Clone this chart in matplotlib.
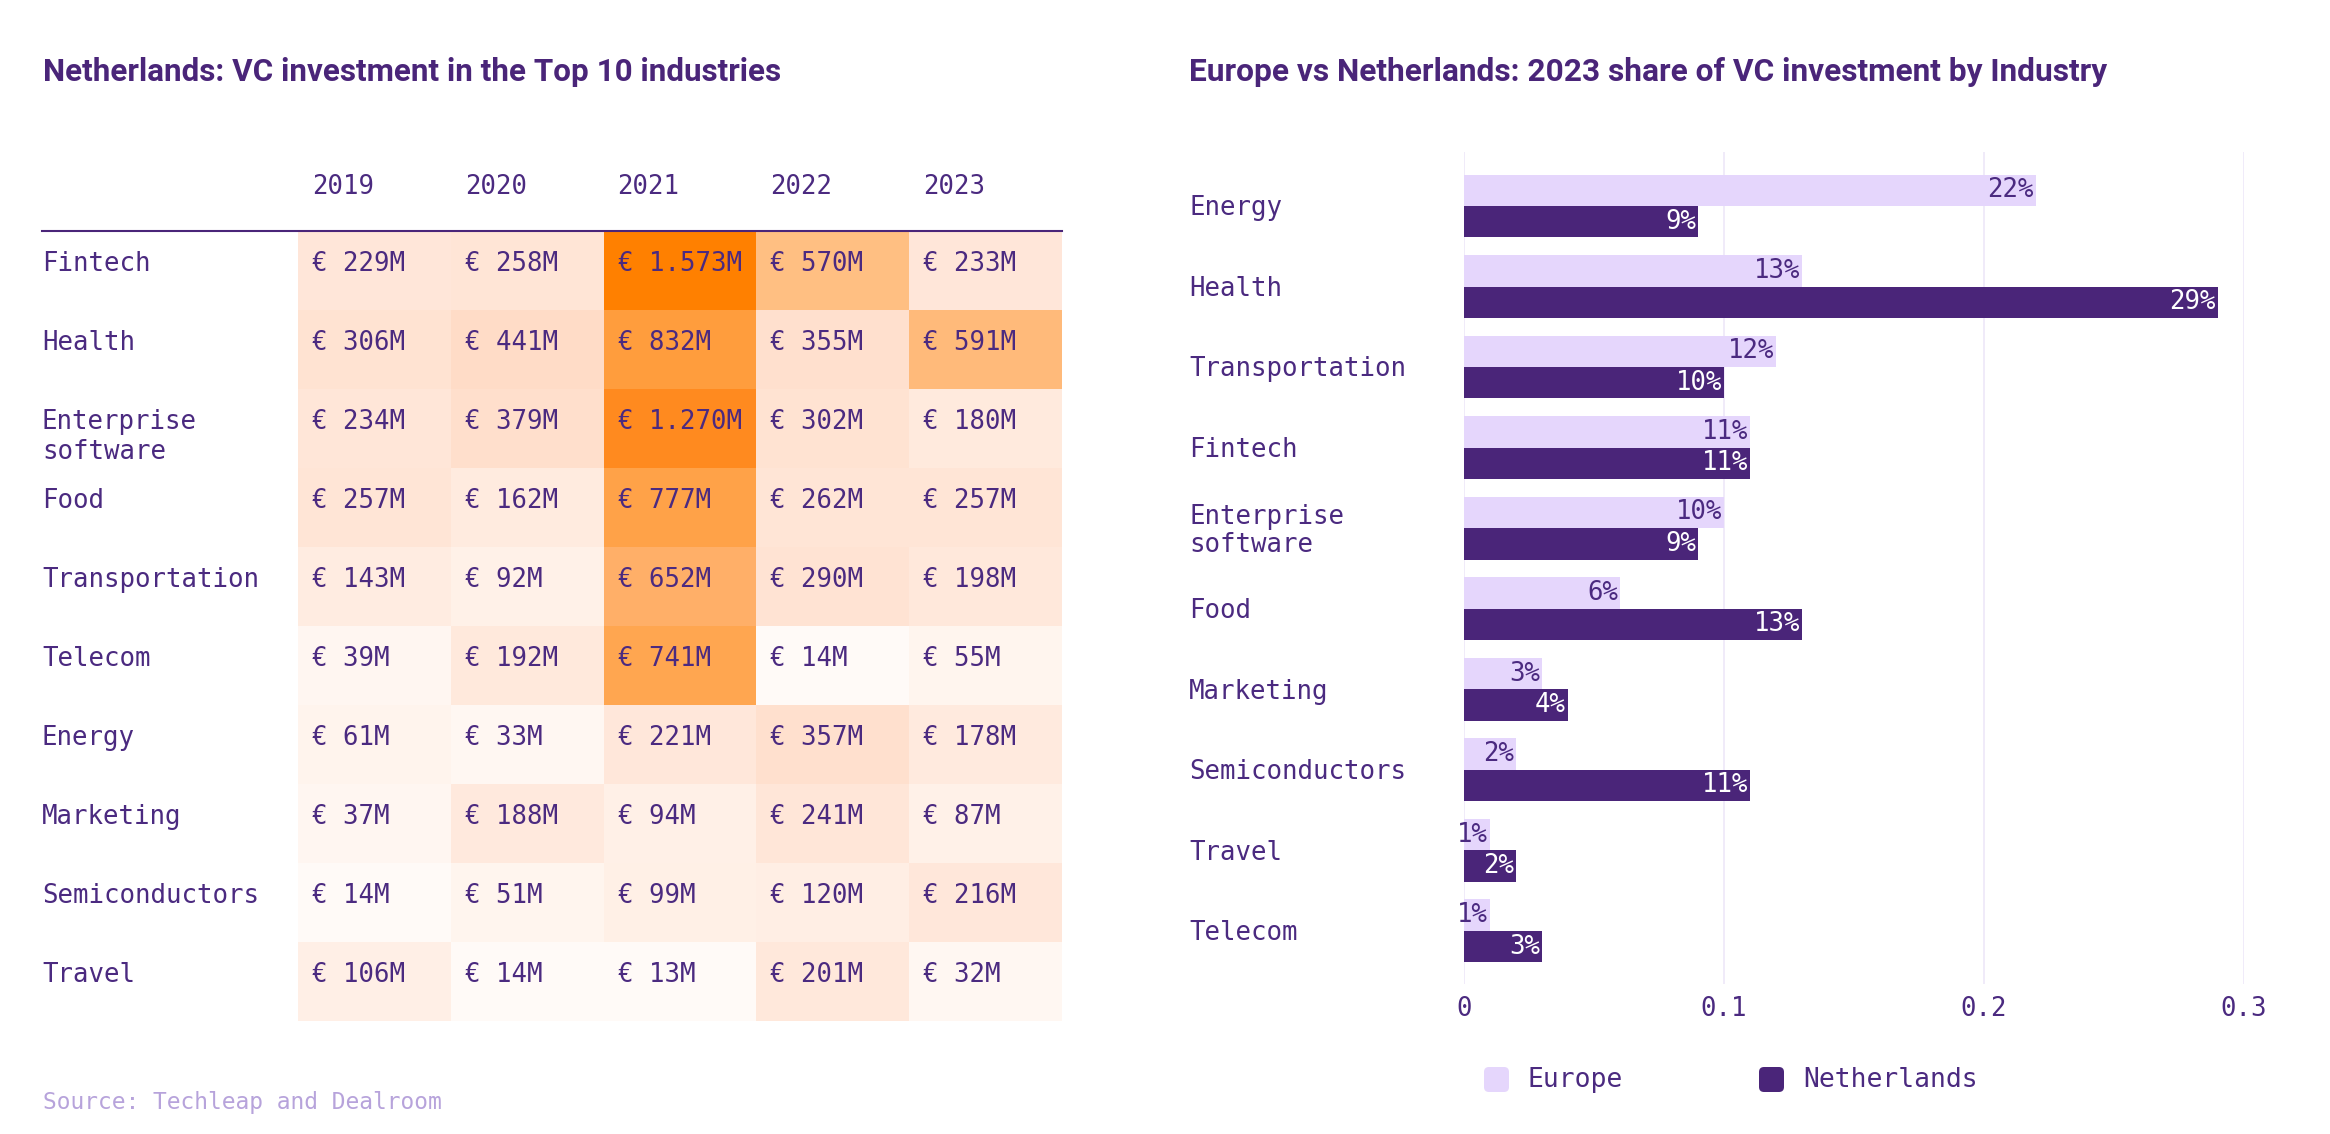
import matplotlib
matplotlib.use('Agg')
import matplotlib.pyplot as plt
import numpy as np
from matplotlib.colors import LinearSegmentedColormap, Normalize
from matplotlib.patches import FancyBboxPatch
from matplotlib.lines import Line2D
import matplotlib.transforms as mtransforms

# ---------------- data ----------------
years = ['2019', '2020', '2021', '2022', '2023']
industries = ['Fintech', 'Health', 'Enterprise\nsoftware', 'Food', 'Transportation',
              'Telecom', 'Energy', 'Marketing', 'Semiconductors', 'Travel']
inv_2019 = [229, 306, 234, 257, 143, 39, 61, 37, 14, 106]
inv_2020 = [258, 441, 379, 162, 92, 192, 33, 188, 51, 14]
inv_2021 = [1573, 832, 1270, 777, 652, 741, 221, 94, 99, 13]
inv_2022 = [570, 355, 302, 262, 290, 14, 357, 241, 120, 201]
inv_2023 = [233, 591, 180, 257, 198, 55, 178, 87, 216, 32]

share_industries = ['Energy', 'Health', 'Transportation', 'Fintech', 'Enterprise\nsoftware',
                    'Food', 'Marketing', 'Semiconductors', 'Travel', 'Telecom']
europe_share = [0.22, 0.13, 0.12, 0.11, 0.10, 0.06, 0.03, 0.02, 0.01, 0.01]
nl_share = [0.09, 0.29, 0.10, 0.11, 0.09, 0.13, 0.04, 0.11, 0.02, 0.03]
x_ticks = [0, 0.1, 0.2, 0.3]
x_tick_labels = ['0', '0.1', '0.2', '0.3']
series_names = ['Europe', 'Netherlands']

title_left = 'Netherlands: VC investment in the Top 10 industries'
title_right = 'Europe vs Netherlands: 2023 share of VC investment by Industry'
source_text = 'Source: Techleap and Dealroom'

# ---------------- style ----------------
W, H = 2330, 1134
PURPLE = '#4A2579'
TEXT = '#4B2A80'
LIGHT = '#E5D6FC'
GRID = '#EEE8F8'
SRC = '#B7A3DB'
MONO = 'DejaVu Sans Mono'
TITLE_FONT = ['Roboto', 'DejaVu Sans']
FS = 18.5

cmap = LinearSegmentedColormap.from_list('orng', [
    (0.0, '#FFFCFA'), (0.025, '#FFF6F0'), (0.06, '#FFF0E7'), (0.1, '#FFEBDF'),
    (0.15, '#FFE6D8'), (0.2, '#FFE2D1'), (0.28, '#FFDCC7'), (0.36, '#FFBF82'),
    (0.41, '#FFB06A'), (0.47, '#FFA650'), (0.53, '#FF9D3D'), (0.81, '#FF8A1F'),
    (1.0, '#FF8000')])

fig = plt.figure(figsize=(W / 100, H / 100), dpi=100)
fig.patch.set_facecolor('white')

def fx(px):
    return px / W

def fy(py):
    return 1 - py / H

# ---------------- left heatmap ----------------
data = np.array([inv_2019, inv_2020, inv_2021, inv_2022, inv_2023]).T
left, right, top, bottom = 298, 1062, 231, 1021
ax = fig.add_axes([fx(left), fy(bottom), fx(right - left), (bottom - top) / H])
norm = Normalize(vmin=0, vmax=data.max())
ax.pcolormesh(np.arange(len(years) + 1), np.arange(len(industries) + 1), data,
              cmap=cmap, norm=norm, shading='flat')
ax.set_xlim(0, len(years))
ax.set_ylim(len(industries), 0)
ax.axis('off')

row_h = (bottom - top) / len(industries)
first_off = 33 / row_h
line_off = 30 / row_h
xpad = 14 / ((right - left) / len(years))

def fmt(v):
    return '€ ' + f'{v:,}'.replace(',', '.') + 'M'

for i in range(len(industries)):
    for j in range(len(years)):
        ax.text(j + xpad, i + first_off, fmt(data[i, j]), ha='left', va='center',
                family=MONO, fontsize=FS, color=TEXT)

blend = mtransforms.blended_transform_factory(fig.transFigure, ax.transData)
for i, name in enumerate(industries):
    for k, line in enumerate(name.split('\n')):
        ax.text(fx(42), i + first_off + k * line_off, line, transform=blend,
                ha='left', va='center', family=MONO, fontsize=FS, color=TEXT, clip_on=False)

hdr_y = (187 - top) / row_h
for j, yr in enumerate(years):
    ax.text(j + xpad, hdr_y, yr, ha='left', va='center', family=MONO, fontsize=FS,
            color=TEXT, clip_on=False)

fig.add_artist(Line2D([fx(42), fx(1062)], [fy(231), fy(231)], color=PURPLE, lw=1.5,
                      transform=fig.transFigure))

fig.text(fx(43), fy(72), title_left, ha='left', va='center', family=TITLE_FONT,
         fontweight='bold', fontsize=22.6, color=PURPLE)
fig.text(fx(43), fy(1102), source_text, ha='left', va='center', family=MONO,
         fontsize=16.5, color=SRC)

# ---------------- right bars ----------------
a_left, a_right, a_top, a_bottom = 1464, 2244, 152, 984
ax2 = fig.add_axes([fx(a_left), fy(a_bottom), fx(a_right - a_left), (a_bottom - a_top) / H])
y = np.arange(len(share_industries))
bh = 0.39
ax2.barh(y - bh / 2, europe_share, height=bh, color=LIGHT, zorder=2)
ax2.barh(y + bh / 2, nl_share, height=bh, color=PURPLE, zorder=2)
ax2.set_xlim(0, 0.3)
ax2.set_ylim(len(share_industries) - 0.34, -0.67)
for s in ax2.spines.values():
    s.set_visible(False)
ax2.set_xticks(x_ticks)
ax2.set_xticklabels(x_tick_labels, family=MONO, fontsize=FS, color=TEXT)
ax2.tick_params(axis='x', length=0, pad=9)
ax2.set_yticks([])
ax2.grid(axis='x', color=GRID, lw=1.2, zorder=0)
ax2.set_axisbelow(True)

off = mtransforms.offset_copy(ax2.transData, fig=fig, x=-2, y=0, units='dots')
for i in range(len(share_industries)):
    ax2.text(europe_share[i], y[i] - bh / 2, f'{round(europe_share[i] * 100)}%', transform=off,
             ha='right', va='center', family=MONO, fontsize=FS, color=TEXT, zorder=3)
    ax2.text(nl_share[i], y[i] + bh / 2, f'{round(nl_share[i] * 100)}%', transform=off,
             ha='right', va='center', family=MONO, fontsize=FS, color='white', zorder=3)

blend2 = mtransforms.blended_transform_factory(fig.transFigure, ax2.transData)
for i, name in enumerate(share_industries):
    ax2.text(fx(1189), y[i] + 0.03, name, transform=blend2, ha='left', va='center',
             family=MONO, fontsize=FS, color=TEXT, clip_on=False, linespacing=1.1)

fig.text(fx(1189), fy(72), title_right, ha='left', va='center', family=TITLE_FONT,
         fontweight='bold', fontsize=22.8, color=PURPLE)

# legend
ident = mtransforms.IdentityTransform()
for name, col, sx, tx in [(series_names[0], LIGHT, 1484, 1528),
                          (series_names[1], PURPLE, 1759, 1803)]:
    fig.add_artist(FancyBboxPatch((sx, H - 1092), 25, 25,
                                  boxstyle='round,pad=0,rounding_size=5',
                                  transform=ident, facecolor=col, edgecolor='none'))
    fig.text(fx(tx), fy(1080), name, ha='left', va='center', family=MONO,
             fontsize=19, color=TEXT)

fig.savefig('out.png', dpi=100, facecolor='white')
